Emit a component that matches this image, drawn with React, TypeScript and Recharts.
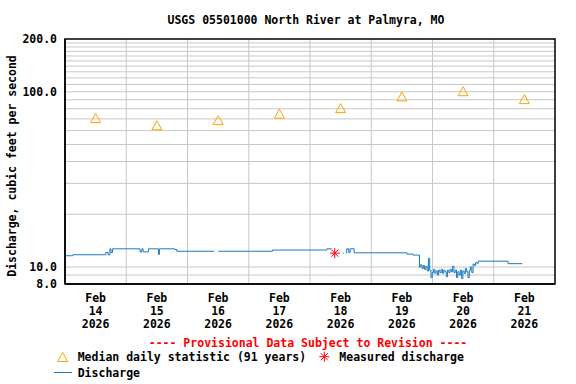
import React from 'react';
import { ComposedChart, Line, Scatter, XAxis, YAxis, CartesianGrid, ReferenceArea } from 'recharts';

const FONT = '"DejaVu Sans Mono", "Liberation Mono", monospace';
const FS = 11.5;

// x positions are hours since Feb 14 2026 00:00
const dayLabels = ['14', '15', '16', '17', '18', '19', '20', '21'];
const dayNoonHours = [12, 36, 60, 84, 108, 132, 156, 180];
const midnightHours = [24, 48, 72, 96, 120, 144, 168];
const medianCfs = [70.8, 64.4, 68.9, 74.9, 80.7, 94.0, 100.7, 90.8];
const measuredHours = [105.7];
const measuredCfs = [12.0];
const yTicks = [8, 10, 100, 200];
const yGridValues = [9, 10, 20, 30, 40, 50, 60, 70, 80, 90, 100, 110, 120, 130, 140, 150, 160, 170, 180, 190];

const dischargeHours = [
  0, 3.1, 16.0, 16.9, 17.6, 18.0, 18.6, 29.4, 30.1, 30.6, 32.7, 36.6, 37.0, 42.9, 43.8, 58.4, 58.6,
  60.1, 81.3, 102.6, 104.5, 104.8, 109.0, 109.4, 109.7, 110.2, 110.4, 111.2, 111.7, 113.3, 134.0, 136.4,
  138.9, 139.4, 139.9, 140.4, 140.9, 141.4, 141.9, 142.4, 142.9, 143.4, 143.9, 144.4, 144.9, 145.4, 145.9,
  146.4, 146.9, 147.4, 147.9, 148.4, 148.9, 149.4, 149.9, 150.4, 150.9, 151.4, 151.9, 152.4, 152.9, 153.4,
  153.9, 154.4, 154.9, 155.4, 155.9, 156.4, 156.9, 157.4, 157.9, 158.4, 158.9, 159.4, 159.9, 160.4, 160.9,
  161.4, 161.9, 173.6, 179.2,
];
const dischargeCfs: (number | null)[] = [
  11.6, 11.75, 12.1, 11.75, 12.7, 12.1, 12.7, 12.2, 12.7, 12.2, 12.7, 11.8, 12.7, 12.6, 12.3, 12.3, null,
  12.3, 12.5, 12.7, 12.7, null, 12.0, 12.0, null, 12.0, 12.7, 12.1, 12.7, 12.05, 11.85, 11.7,
  10.0, 10.3, 9.8, 10.2, 9.7, 10.1, 9.5, 11.2, 9.6, 8.7, 9.3, 9.7, 9.2, 9.5, 9.0,
  9.6, 9.3, 9.7, 9.2, 9.6, 9.4, 8.8, 9.6, 9.3, 9.7, 9.4, 10.1, 9.3, 9.6, 8.7,
  9.4, 9.0, 9.6, 8.6, 9.5, 9.2, 9.8, 9.4, 8.7, 9.6, 10.0, 9.3, 10.4, 10.2, 10.6,
  10.5, 10.8, 10.45, 10.45,
];

const dischargeData = dischargeHours.map((h, i) => ({ h, q: dischargeCfs[i] }));
const medianData = dayNoonHours.map((h, i) => ({ h, q: medianCfs[i] }));
const measuredData = measuredHours.map((h, i) => ({ h, q: measuredCfs[i] }));

const ORANGE = '#FFA500';
const RED = '#FF0000';
const BLUE = '#1a7ac2';

const Triangle = (p: any) => {
  const { cx, cy } = p;
  if (cx == null || cy == null) return null;
  return (
    <path
      d={`M${cx},${cy - 4.5} L${cx + 5},${cy + 4.5} L${cx - 5},${cy + 4.5} Z`}
      fill="none"
      stroke={ORANGE}
      strokeWidth={1}
    />
  );
};

const asteriskPath = (cx: number, cy: number, r: number) => {
  const d = r * 0.7071;
  return `M${cx - r},${cy} L${cx + r},${cy} M${cx},${cy - r} L${cx},${cy + r} M${cx - d},${cy - d} L${cx + d},${cy + d} M${cx - d},${cy + d} L${cx + d},${cy - d}`;
};

const Asterisk = (p: any) => {
  const { cx, cy } = p;
  if (cx == null || cy == null) return null;
  return <path d={asteriskPath(cx, cy, 5)} stroke={RED} strokeWidth={1} fill="none" />;
};

const XTick = (props: any) => {
  const { x, y, payload } = props;
  const i = dayNoonHours.indexOf(payload.value);
  return (
    <text textAnchor="middle" fontFamily={FONT} fontWeight="bold" fontSize={FS} fill="#000">
      <tspan x={x} y={y + 9.5}>Feb</tspan>
      <tspan x={x} y={y + 22.8}>{dayLabels[i]}</tspan>
      <tspan x={x} y={y + 35.6}>2026</tspan>
    </text>
  );
};

const textStyle = { fontFamily: FONT, fontWeight: 'bold' as const, fontSize: FS };

export default function App() {
  return (
    <div style={{ position: 'absolute', left: 0, top: 0, width: 576, height: 384, background: '#fff' }}>
      <ComposedChart width={576} height={384} margin={{ top: 39, right: 21, left: 0, bottom: 0 }}>
        <CartesianGrid
          stroke="#c8c8c8"
          strokeWidth={1}
          horizontalValues={yGridValues}
          verticalValues={midnightHours}
        />
        <XAxis
          dataKey="h"
          type="number"
          domain={[0, 192]}
          allowDataOverflow
          ticks={dayNoonHours}
          interval={0}
          tickLine={false}
          axisLine={{ stroke: '#000', strokeWidth: 1.5 }}
          height={100}
          tick={<XTick />}
        />
        <YAxis
          dataKey="q"
          scale="log"
          domain={[8, 200]}
          allowDataOverflow
          ticks={yTicks}
          interval={0}
          width={65}
          tickLine={false}
          axisLine={{ stroke: '#000', strokeWidth: 1.5 }}
          tickFormatter={(v: number) => v.toFixed(1)}
          tick={{ ...textStyle, fill: '#000' }}
        />
        <ReferenceArea x1={0} x2={192} y1={8} y2={200} fill="none" stroke="#000" strokeWidth={1.5} ifOverflow="visible" />
        <Line
          data={dischargeData}
          dataKey="q"
          type="stepAfter"
          stroke={BLUE}
          strokeWidth={1}
          dot={false}
          activeDot={false}
          connectNulls={false}
          isAnimationActive={false}
        />
        <Scatter data={medianData} dataKey="q" shape={<Triangle />} isAnimationActive={false} />
        <Scatter data={measuredData} dataKey="q" shape={<Asterisk />} isAnimationActive={false} />
      </ComposedChart>
      <svg
        width={576}
        height={384}
        style={{ position: 'absolute', left: 0, top: 0, pointerEvents: 'none' }}
      >
        <text x={306} y={24} textAnchor="middle" {...textStyle} fill="#000">
          USGS 05501000 North River at Palmyra, MO
        </text>
        <text x={15.5} y={166} textAnchor="middle" transform="rotate(-90 15.5 166)" {...textStyle} fill="#000">
          Discharge, cubic feet per second
        </text>
        <text x={308} y={346.8} textAnchor="middle" {...textStyle} fill={RED}>
          ---- Provisional Data Subject to Revision ----
        </text>
        <path d="M62.7,352.5 L67.7,361.5 L57.7,361.5 Z" fill="none" stroke={ORANGE} strokeWidth={1} />
        <text x={77.7} y={361} {...textStyle} fill="#000">
          Median daily statistic (91 years)
        </text>
        <path d={asteriskPath(324.3, 356.7, 5)} stroke={RED} strokeWidth={1} fill="none" />
        <text x={339.3} y={361} {...textStyle} fill="#000">
          Measured discharge
        </text>
        <line x1={54} y1={372.5} x2={72} y2={372.5} stroke={BLUE} strokeWidth={1} />
        <text x={77.7} y={376.8} {...textStyle} fill="#000">
          Discharge
        </text>
      </svg>
    </div>
  );
}
